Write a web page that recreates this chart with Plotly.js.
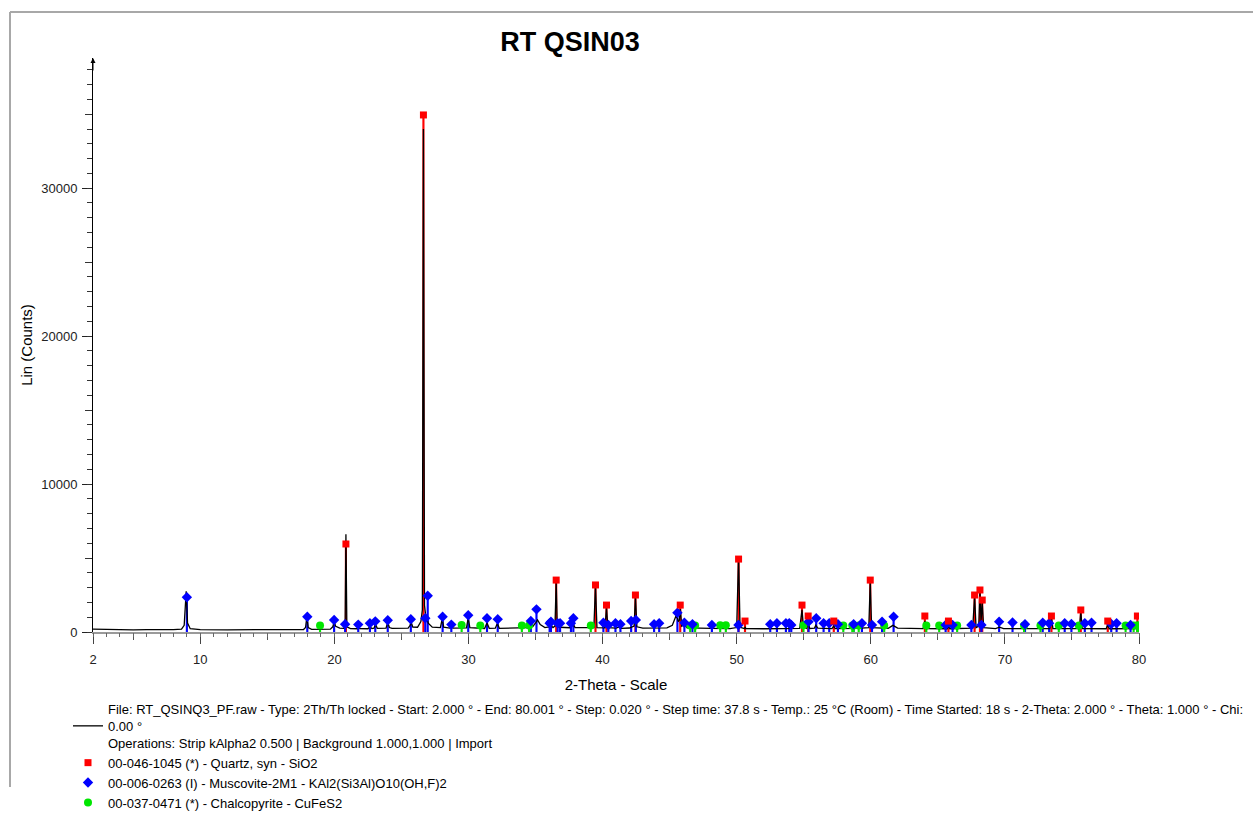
<!DOCTYPE html>
<html>
<head>
<meta charset="utf-8">
<script src="https://cdn.plot.ly/plotly-3.0.1.min.js"></script>
<style>html,body{margin:0;padding:0;background:#fff;}#chart{width:1253px;height:814px;}</style>
</head>
<body>
<div id="chart"></div>
<script>
const patternTheta = [2.0,3.0,4.0,5.0,6.0,7.0,8.0,8.6,8.8,8.95,9.05,9.25,10,12,14,16,17.7,17.85,17.95,18.05,18.3,19.7,19.88,19.98,20.1,20.4,20.7,20.8,20.86,20.93,21.2,21.7,21.78,21.9,22.5,22.65,22.8,22.95,23.07,23.2,23.85,23.98,24.1,24.3,25.5,25.65,25.72,25.85,26.2,26.45,26.56,26.64,26.72,26.8,26.9,27.0,27.3,27.9,28.05,28.15,28.6,28.72,28.85,29.85,29.98,30.1,31.2,31.38,31.55,32.0,32.15,32.3,34.45,34.62,34.8,35.0,35.15,35.35,35.7,36.0,36.12,36.3,36.45,36.54,36.62,36.8,37.55,37.75,37.95,39.35,39.47,39.58,40.18,40.29,40.4,41.0,41.2,41.4,42.0,42.35,42.45,42.56,43.0,44.8,45.2,45.5,45.65,45.72,45.8,45.9,46.1,46.3,47.0,48.1,49.5,50.0,50.14,50.25,50.6,50.62,50.68,52.0,54.7,54.87,54.98,55.2,55.33,55.45,55.8,55.9,56.05,57.1,57.24,57.35,59.0,59.85,59.96,60.06,61.3,61.65,62.0,63.9,64.03,64.15,65.7,65.79,65.9,67.6,67.74,67.85,68.05,68.14,68.22,68.31,68.42,69.3,69.6,69.9,73.35,73.47,73.58,75.55,75.66,75.77,77.55,77.67,77.78,79.75,79.88,79.98,80.0];
const patternCounts = [190,160,170,150,160,150,160,200,450,2750,600,220,160,150,150,150,170,300,1050,300,180,190,350,700,380,260,250,400,6600,350,230,220,420,230,220,350,230,260,500,250,260,650,300,250,260,450,680,330,320,700,1500,34000,1800,1200,1000,600,330,300,900,330,260,420,260,280,950,300,240,600,250,260,580,250,290,550,380,620,810,500,300,340,480,300,400,3400,400,320,290,600,300,300,3150,300,280,1650,290,260,330,250,270,400,2400,350,260,280,450,1150,700,800,1550,400,500,280,250,240,230,300,5100,320,230,350,230,220,250,1500,300,240,550,240,260,450,260,230,400,230,240,300,3400,300,250,450,260,230,750,230,220,380,220,260,2400,300,400,2850,700,1950,300,230,330,230,230,1000,230,230,1350,230,220,500,220,230,700,230,220];

// ---- Reference phase sticks ----
const quartzTheta = [20.86,26.64,36.54,39.47,40.29,42.45,45.79,50.14,50.62,54.87,55.33,57.24,59.96,64.03,65.79,67.74,68.14,68.31,73.47,75.66,77.67,79.88];
const quartzCounts = [5950,34950,3510,3180,1820,2500,1820,4930,740,1820,1080,740,3510,1080,740,2500,2840,2160,1080,1490,740,1080];

const muscoviteTheta = [9.0,17.98,19.98,20.8,21.78,22.65,23.05,23.98,25.7,26.78,26.96,28.07,28.72,29.98,31.38,32.18,34.65,35.07,36.05,36.15,36.65,36.83,37.64,37.82,40.06,40.43,40.96,41.33,42.13,42.48,43.84,44.22,45.58,46.1,46.7,48.15,50.13,52.5,53.0,53.67,53.92,54.07,55.36,55.93,56.48,56.9,57.55,58.72,59.34,60.09,60.84,61.7,65.58,66.1,67.5,68.25,69.57,70.57,71.5,72.82,73.3,74.46,74.96,75.96,76.46,77.93,78.33,79.37];
const muscoviteCounts = [2350,1030,810,520,500,590,720,790,860,930,2450,1030,500,1130,930,860,740,1530,590,700,590,590,590,930,630,470,590,520,740,810,520,590,1300,630,520,470,470,520,590,590,590,470,700,930,590,590,520,520,590,470,700,1030,470,470,470,470,700,640,520,630,590,590,540,590,630,540,590,470];

const chalcoTheta = [18.93,29.49,30.88,33.98,34.52,39.12,46.53,46.9,48.77,49.19,54.98,57.95,58.62,58.72,59.1,61.0,64.14,65.1,66.44,71.43,72.65,74.02,75.52,79.0,79.6,79.86,79.97];
const chalcoCounts = [440,470,440,440,440,440,440,440,450,450,450,440,440,440,440,440,440,440,440,440,440,440,440,440,440,440,440];

// ---- Axis ticks and texts ----
const xMajorTicks = [2,10,20,30,40,50,60,70,80];
const xMidTicks = [5,15,25,35,45,55,65,75];
const yMajorTicks = [0,10000,20000,30000];
const yMidTicks = [5000,15000,25000,35000];
const chartTitle = 'RT QSIN03';
const xTitle = '2-Theta - Scale';
const yTitle = 'Lin (Counts)';
const fileInfo = 'File: RT_QSINQ3_PF.raw - Type: 2Th/Th locked - Start: 2.000 ° - End: 80.001 ° - Step: 0.020 ° - Step time: 37.8 s - Temp.: 25 °C (Room) - Time Started: 18 s - 2-Theta: 2.000 ° - Theta: 1.000 ° - Chi:';
const fileInfoWrap = '0.00 °';
const operationsInfo = 'Operations: Strip kAlpha2 0.500 | Background 1.000,1.000 | Import';
const phaseNames = ['00-046-1045 (*) - Quartz, syn - SiO2','00-006-0263 (I) - Muscovite-2M1 - KAl2(Si3Al)O10(OH,F)2','00-037-0471 (*) - Chalcopyrite - CuFeS2'];

// ---- layout geometry ----
const FW = 1253, FH = 814;
const M = {l: 93, r: 114, t: 58, b: 182, autoexpand: false};
const PW = FW - M.l - M.r, PH = FH - M.t - M.b;
const px = v => (v - M.l) / PW;
const py = v => (FH - M.b - v) / PH;
const FONT = 'Liberation Sans, Arial, sans-serif';
const RED = '#ff0000', BLUE = '#0000ff', GREEN = '#00e600';
const X_RANGE = [2, 80], Y_RANGE = [0, 38800];

// one stick (bar) trace built from the three phase lists
const stickTheta = quartzTheta.concat(muscoviteTheta, chalcoTheta);
const stickCounts = quartzCounts.concat(muscoviteCounts, chalcoCounts);
const stickColors = quartzTheta.map(() => RED).concat(muscoviteTheta.map(() => BLUE), chalcoTheta.map(() => GREEN));

const mark = (x, y, c, sym, sz, name, rank) => ({type: 'scatter', mode: 'markers', x: x, y: y, xaxis: 'x3', yaxis: 'y3', name: name, legendrank: rank, marker: {color: c, symbol: sym, size: sz}});

const traces = [
  {type: 'bar', x: stickTheta, y: stickCounts, width: 0.16, marker: {color: stickColors}, showlegend: false},
  {type: 'scatter', mode: 'lines', x: patternTheta, y: patternCounts, xaxis: 'x2', yaxis: 'y2', legendrank: 1,
   name: fileInfo + '<br>' + fileInfoWrap + '<br>' + operationsInfo, line: {color: '#000', width: 1.3}},
  mark(chalcoTheta, chalcoCounts, GREEN, 'circle', 8, phaseNames[2], 4),
  mark(muscoviteTheta, muscoviteCounts, BLUE, 'diamond', 8, phaseNames[1], 3),
  mark(quartzTheta, quartzCounts, RED, 'square', 7, phaseNames[0], 2)
];

const hidden = {showline: false, showgrid: false, zeroline: false, showticklabels: false, fixedrange: true, autorange: false};

const layout = {
  width: FW, height: FH,
  margin: M,
  paper_bgcolor: '#fff', plot_bgcolor: 'rgba(0,0,0,0)',
  barmode: 'overlay',
  showlegend: true,
  legend: {x: px(68), y: py(694), xanchor: 'left', yanchor: 'top', bgcolor: 'rgba(0,0,0,0)', borderwidth: 0,
    font: {family: FONT, size: 13, color: '#000'}, traceorder: 'normal'},
  title: {text: '<b>' + chartTitle + '</b>', font: {family: FONT, size: 27, color: '#000'}, xref: 'container', yref: 'container', x: 570 / FW, xanchor: 'center', y: 1 - 42 / FH, yanchor: 'middle'},
  // major ticks with labels
  xaxis: {
    range: X_RANGE, autorange: false, fixedrange: true, tickmode: 'array', tickvals: xMajorTicks, ticktext: xMajorTicks.map(String),
    ticks: 'outside', ticklen: 10, tickwidth: 1, tickcolor: '#444', ticklabelstandoff: 4,
    showline: true, linecolor: '#9a9a9a', linewidth: 2, showgrid: false, zeroline: false,
    tickfont: {family: FONT, size: 13, color: '#222'},
    title: {text: xTitle, font: {family: FONT, size: 15, color: '#000'}, standoff: 14}
  },
  yaxis: {
    range: Y_RANGE, autorange: false, fixedrange: true, tickmode: 'array', tickvals: yMajorTicks, ticktext: yMajorTicks.map(String),
    ticks: 'outside', ticklen: 10, tickwidth: 1, tickcolor: '#222', ticklabelstandoff: 2,
    showline: true, linecolor: '#000', linewidth: 1, showgrid: false, zeroline: false,
    tickfont: {family: FONT, size: 13, color: '#222'},
    title: {text: yTitle, font: {family: FONT, size: 15, color: '#000'}, standoff: 4}
  },
  // half-decade ticks
  xaxis2: Object.assign({overlaying: 'x', anchor: 'y2', side: 'bottom', range: X_RANGE, tickmode: 'array', tickvals: xMidTicks,
    ticks: 'outside', ticklen: 7, tickwidth: 1, tickcolor: '#555'}, hidden),
  yaxis2: Object.assign({overlaying: 'y', anchor: 'x2', side: 'left', range: Y_RANGE, tickmode: 'array', tickvals: yMidTicks,
    ticks: 'outside', ticklen: 7, tickwidth: 1, tickcolor: '#333'}, hidden),
  // unit ticks
  xaxis3: Object.assign({overlaying: 'x', anchor: 'y3', side: 'bottom', range: X_RANGE, tickmode: 'linear', tick0: 0, dtick: 1,
    ticks: 'outside', ticklen: 4, tickwidth: 1, tickcolor: '#666'}, hidden),
  yaxis3: Object.assign({overlaying: 'y', anchor: 'x3', side: 'left', range: Y_RANGE, tickmode: 'linear', tick0: 0, dtick: 1000,
    ticks: 'outside', ticklen: 5, tickwidth: 1, tickcolor: '#333'}, hidden),
  annotations: [
    {xref: 'x', yref: 'y', x: 2, y: Y_RANGE[1], ax: 0, ay: 14, text: '', showarrow: true, arrowhead: 2, arrowsize: 1, arrowwidth: 1, arrowcolor: '#000', standoff: 0}
  ],
  shapes: [
    {type: 'line', xref: 'paper', yref: 'paper', x0: px(10), x1: px(1253), y0: py(12), y1: py(12), line: {color: '#a8a8a8', width: 2}},
    {type: 'line', xref: 'paper', yref: 'paper', x0: px(10), x1: px(10), y0: py(12), y1: py(787), line: {color: '#a8a8a8', width: 2}}
  ]
};

Plotly.newPlot('chart', traces, layout, {displayModeBar: false, staticPlot: true});
</script>
</body>
</html>
